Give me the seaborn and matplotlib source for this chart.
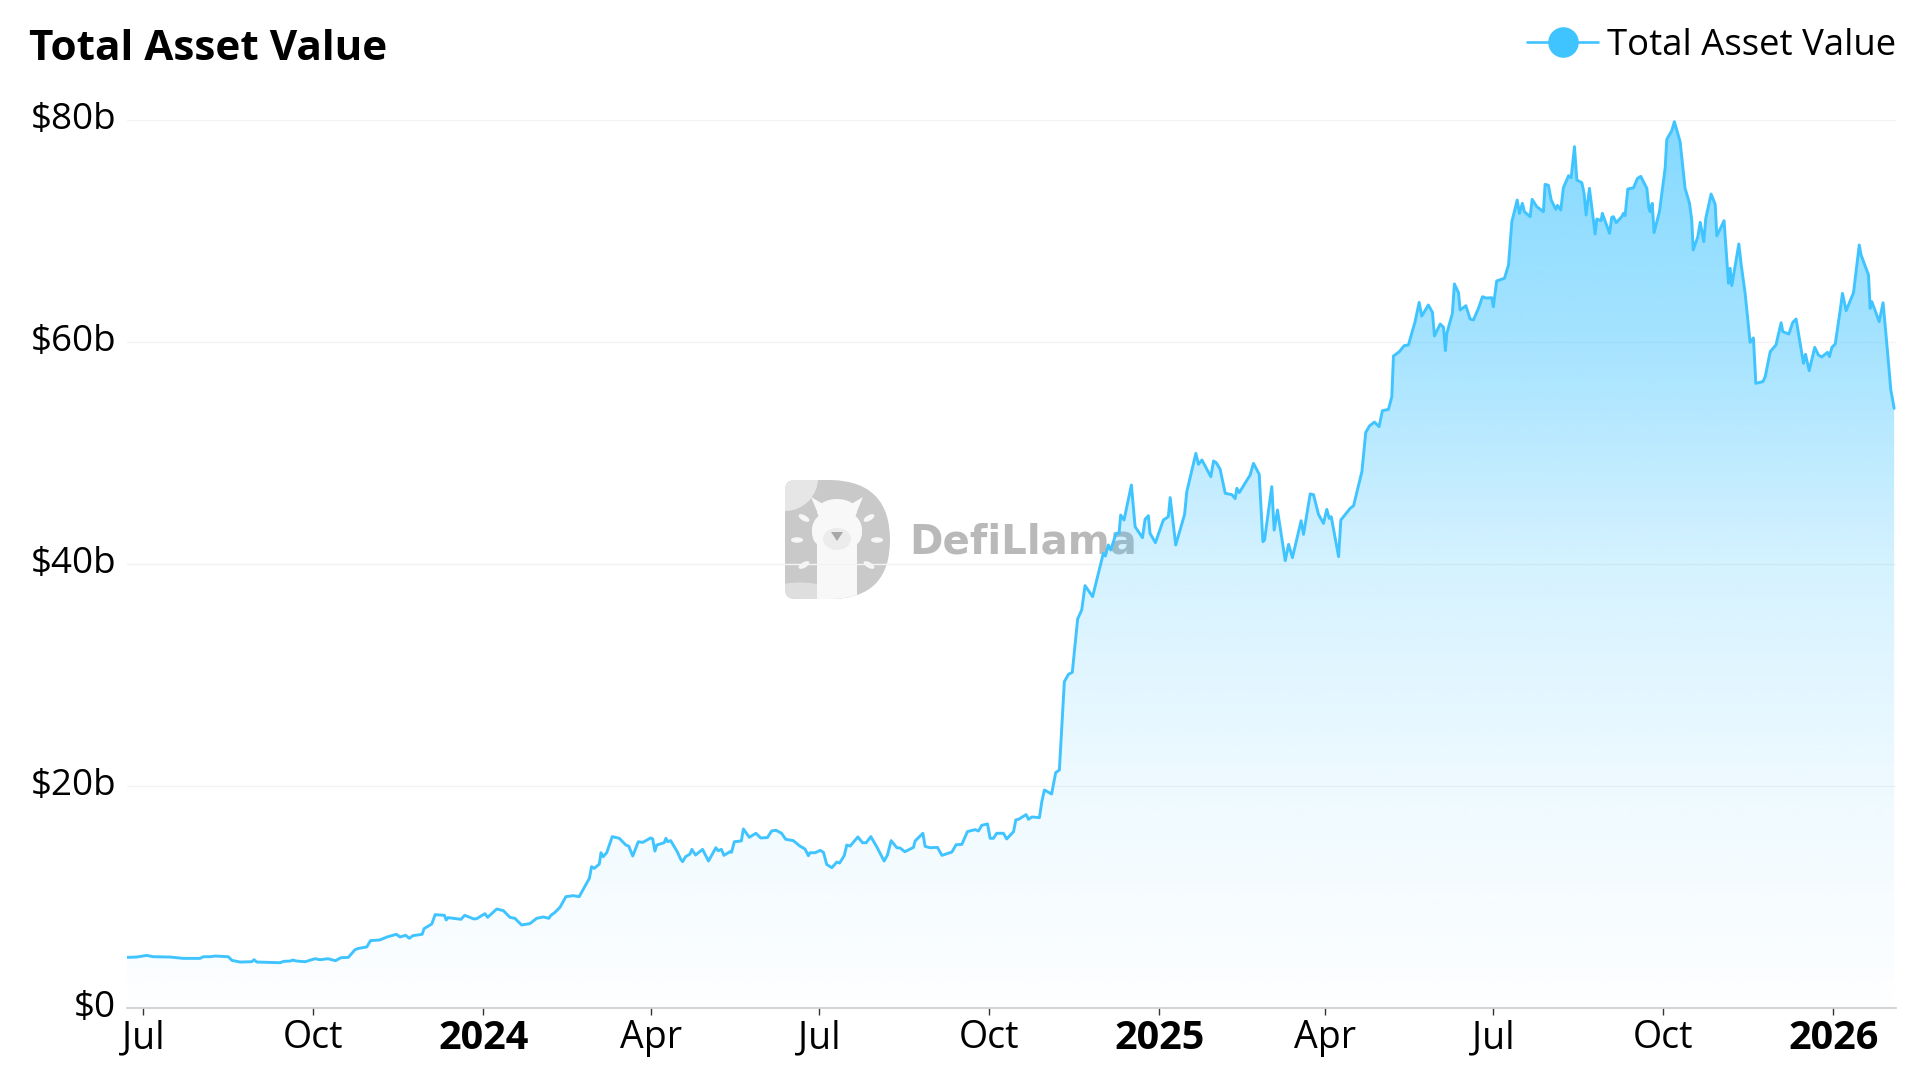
import numpy as np
import pandas as pd
import matplotlib
matplotlib.use("Agg")
import matplotlib.pyplot as plt
import matplotlib.dates as mdates
from matplotlib.lines import Line2D
from matplotlib.patches import PathPatch, Ellipse, Polygon, Circle
from matplotlib.path import Path
from matplotlib.transforms import ScaledTranslation
import seaborn as sns

START_DATE = "2023-06-22"
END_DAY = 958

days = [
 0,5.4,10.8,14.4,23.5,30.7,39.7,41.5,45,48,55,57,61.4,67.7,69,70.4,83,85,88.5,90,92,96.6,102,104.7,109,113,116,120,
 123.6,125.5,130,132,137,141,146,148,151,153,155,160,161,165.2,167,172,173,174,181,183,188,189.5,194,195.4,200.4,
 204,207.5,210.2,213.8,218.3,222,225.6,228.6,229.5,231.9,234.6,237.8,241.8,245,250.5,251.7,253.2,255.9,256.8,258,259.9,
 262.9,266.7,270.3,271.8,274,277,279.4,283.7,284.8,286,287,291,292,292.9,294.5,298.1,300,301,302.6,305,306,308,311.8,
 315,319,320.3,322,323.4,326.6,327.5,329,332.8,333.9,337.1,340.7,343.3,346.9,349.2,351.6,354.6,356.8,360.9,364.5,
 367.3,369.1,370,372.8,375.5,377.3,379,381.8,384.5,386,388.5,389.9,391.7,395.9,398.4,400.4,402.9,406.1,410.1,411.9,
 413.9,417,418.8,421.3,426,426.9,431.1,432.3,435,439,441.4,446.8,449.1,452.2,455.2,459.4,461.2,463,466.1,467.5,469.3,
 471.1,474.7,476.5,480.2,481.4,482.9,487,488.3,490.1,494.2,495.5,
 496.9,500.8,503,505,507.7,509.9,512,514.9,517.1,518.9,523,528.8,529.9,531.5,532.8,535.7,537.3,538.2,540,544,546,550,
 551.4,553.2,554.1,557,561.3,564,
 565,568,572.8,574,578.9,580.3,582.2,587,588.5,589.9,592,594.8,598.4,600.2,601.1,602.4,608.3,610.1,613.2,615.2,616.1,
 620,621.3,623.1,627.3,629.1,631.2,635.9,637.2,640.8,642.6,645.3,648,649.8,651.1,652.2,656.2,657.4,662.5,664.3,668.8,
 670.9,672.9,675.6,678.1,679.9,683.2,685,685.9,689.1,
 691.7,694,697.6,699.8,701.2,704.8,707,708.1,711.2,713,714,714.8,717.8,718.9,721.1,722,725.1,727.4,729.2,731.9,734.1,
 736.1,739.1,740,741.8,746,748.2,750,752.9,754.1,755.7,756.8,759.9,761,763.5,767.1,768,769.8,771.3,773.8,774.7,776.5,
 777.9,780.7,782.1,783.9,785.2,787.9,789.1,790.2,792,795.1,796,798.3,799,802.9,804.1,805,806.5,809.5,810.4,811.3,
 812.8,815.9,818,819.8,823.1,824.2,824.9,826,827,829.9,833,833.9,836.6,838,841.1,843.8,846.2,847.4,848.2,850.7,852,
 853.9,855,857.9,860.1,861,864.9,867.3,868.2,869.1,872.9,874.2,876.3,879,880.8,882.1,885.9,887.2,889.9,893,895.8,
 896.7,900,902.1,903.9,907.9,909,911,914,916,917.8,920.9,922,923.3,925.1,927.8,929,931,935,938.1,939.1,943.1,944,
 944.9,948.9,951,953,955.2,957,
]
tav_billions = [
 4.56,4.59,4.74,4.62,4.59,4.47,4.47,4.62,4.62,4.68,4.62,4.29,4.14,4.17,4.35,4.14,4.08,4.20,4.23,4.32,4.23,4.17,4.44,4.35,4.44,4.26,4.53,4.56,
 5.25,5.37,5.5,6.07,6.13,6.4,6.64,6.4,6.55,6.28,6.52,6.64,7.15,7.57,8.41,8.35,7.93,8.14,7.99,8.35,8.02,8.05,8.5,8.17,8.92,
 8.77,8.17,8.08,7.48,7.6,8.08,8.2,8.08,8.32,8.62,9.07,10.03,10.12,10.03,11.68,12.73,12.58,12.97,13.99,13.63,13.99,
 15.44,15.29,14.68,14.59,13.69,14.98,14.92,15.32,15.23,14.14,14.68,14.89,15.29,14.98,15.08,14.08,13.39,13.18,13.63,13.87,14.29,13.78,14.29,
 13.24,14.44,14.17,14.29,13.75,14.08,14.02,14.98,15.05,16.13,15.38,15.74,15.32,15.35,15.95,16.01,15.74,15.2,15.08,14.59,
 14.32,13.72,13.99,13.99,14.2,14.02,12.94,12.64,13.15,13.06,13.72,14.68,14.59,15.41,14.89,14.89,15.44,14.53,13.24,13.78,
 15.08,14.44,14.41,14.08,14.47,15.05,15.74,14.56,14.44,14.47,13.75,14.05,14.71,14.74,15.89,16.07,15.95,16.46,16.58,15.29,15.29,
 15.74,15.74,15.23,15.89,16.94,17.0,17.42,17.0,17.21,17.15,18.59,
 19.64,19.28,21.2,21.44,29.4,30.06,30.24,35.05,35.86,38.05,37.06,40.96,40.72,41.71,41.26,42.76,42.76,44.41,43.96,47.12,43.36,42.37,
 44.02,44.35,42.76,41.92,43.96,44.26,
 45.98,41.71,44.47,46.52,49.97,48.98,49.37,47.87,49.28,49.13,48.56,46.37,46.25,45.89,46.82,46.43,48.02,49.07,48.08,42.01,42.16,
 46.97,43.06,44.86,40.3,41.77,40.57,43.9,42.67,46.31,46.25,44.47,43.66,44.92,44.11,44.26,40.66,43.96,45.02,45.25,48.32,
 51.86,52.43,52.79,52.37,53.81,53.93,55.08,58.74,59.13,
 59.67,59.73,61.83,63.57,62.34,63.33,62.67,60.54,61.62,61.32,59.22,60.78,62.58,65.23,64.45,62.88,63.27,62.07,61.98,63.03,64.08,
 63.96,63.99,63.18,65.5,65.74,66.94,70.84,72.79,71.59,72.49,71.74,71.29,72.85,72.19,71.74,74.2,74.11,72.79,71.95,72.31,71.89,
 73.9,74.98,74.8,77.6,74.59,74.35,73.39,71.44,73.84,69.73,71.08,70.93,71.59,69.79,71.23,71.29,70.75,71.29,71.59,71.38,
 73.78,73.9,74.74,74.92,73.84,72.04,71.74,72.49,69.85,71.74,75.65,78.26,79.04,79.85,78.05,73.84,72.49,70.99,68.29,69.49,70.78,
 69.04,71.14,73.33,72.4,69.55,70.93,65.29,66.64,65.08,68.83,66.94,64.39,59.97,60.36,56.28,56.43,56.88,59.13,59.73,61.74,
 60.93,60.72,61.77,62.07,58.08,58.89,57.42,59.52,58.83,58.65,59.07,58.68,59.52,59.82,62.88,64.38,62.82,64.44,68.74,67.84,66.04,63.03,
 63.63,61.83,63.54,59.88,55.68,54.02,
]
tick_dates = ["2023-07-01","2023-10-01","2024-01-01","2024-04-01","2024-07-01","2024-10-01",
              "2025-01-01","2025-04-01","2025-07-01","2025-10-01","2026-01-01"]
tick_labels = ["Jul","Oct","2024","Apr","Jul","Oct","2025","Apr","Jul","Oct","2026"]
y_ticks = [0,20,40,60,80]
y_labels = ["$0","$20b","$40b","$60b","$80b"]
title = "Total Asset Value"
series_name = "Total Asset Value"

LINE = "#40C4FF"
FW, FH = 1920, 1080
AX_L, AX_R, AX_T, AX_B = 126.7, 1896, 120, 1008

sns.set_theme(style="white")
plt.rcParams["font.family"] = ["Open Sans", "DejaVu Sans"]

fig = plt.figure(figsize=(19.2, 10.8), dpi=100, facecolor="white")

# watermark layer in pixel units, beneath the chart
bg = fig.add_axes([0, 0, 1, 1], zorder=0)
bg.set_xlim(0, FW); bg.set_ylim(FH, 0); bg.axis("off")
D = Path([(795,480),(832,480),(890,482),(890,540),(890,598),(832,599),(795,599),(785,599),(785,589),(785,490),(785,480),(795,480)],
         [Path.MOVETO,Path.LINETO,Path.CURVE3,Path.CURVE3,Path.CURVE3,Path.CURVE3,Path.LINETO,Path.CURVE3,Path.CURVE3,Path.LINETO,Path.CURVE3,Path.CURVE3])
dp = PathPatch(D, fc="#c9c9c9", ec="none"); bg.add_patch(dp)
c1 = Circle((785,478), 33, fc="#e6e6e6", ec="none"); bg.add_patch(c1); c1.set_clip_path(dp)
c2 = Ellipse((800,640), 150, 115, fc="#dedede", ec="none"); bg.add_patch(c2); c2.set_clip_path(dp)
neck = Polygon([(817,525),(857,525),(857,599),(817,599)], fc="#f8f8f8", ec="none"); bg.add_patch(neck); neck.set_clip_path(dp)
for pts in ([(811,497),(828,507),(821,521)], [(863,497),(846,507),(853,521)]):
    bg.add_patch(Polygon(pts, fc="#f8f8f8", ec="none"))
for (cx, cy, w, h) in [(837,511,40,24),(837,530,50,42),(820,532,16,26),(854,532,16,26)]:
    bg.add_patch(Ellipse((cx,cy), w, h, fc="#f8f8f8", ec="none"))
bg.add_patch(Ellipse((837,539), 28, 22, fc="#ececec", ec="none"))
bg.add_patch(Polygon([(831,532),(843,532),(837,541)], fc="#a8a8a8", ec="none"))
for (cx, cy, ang) in [(804,518,30),(797,540,0),(804,565,-30),(869,518,-30),(877,540,0),(869,565,30)]:
    bg.add_patch(Ellipse((cx,cy), 12, 5.5, angle=ang, fc="#f6f6f6", ec="none"))
bg.text(909, 543, "DefiLlama", family="DejaVu Sans", weight="bold", fontsize=29, color="#b9b9b9", va="center", ha="left")

ax = fig.add_axes([AX_L/FW, (FH-AX_B)/FH, (AX_R-AX_L)/FW, (AX_B-AX_T)/FH], zorder=1)
ax.patch.set_alpha(0)

df = pd.DataFrame({"date": pd.Timestamp(START_DATE) + pd.to_timedelta(days, unit="D"), "value": tav_billions})
sns.lineplot(data=df, x="date", y="value", color=LINE, lw=2.1, ax=ax, zorder=4, legend=False, errorbar=None, estimator=None)

x0 = pd.Timestamp(START_DATE)
x1 = x0 + pd.Timedelta(days=END_DAY)
ax.set_xlim(x0, x1); ax.set_ylim(0, 80)

# vertical gradient under the line
poly = ax.fill_between(df["date"], df["value"], 0, facecolor="none", edgecolor="none")
levels = np.linspace(0, 80, 256)
alpha = np.interp(levels, [0, 20, 40, 60, 80], [0.01, 0.09, 0.22, 0.47, 0.64])
rgba = np.ones((256, 1, 4))
rgba[..., :3] = matplotlib.colors.to_rgb(LINE)
rgba[:, 0, 3] = alpha
im = ax.imshow(rgba, origin="lower", aspect="auto", zorder=3, interpolation="bilinear",
               extent=[mdates.date2num(x0), mdates.date2num(x1), 0, 80])
im.set_clip_path(poly.get_paths()[0], transform=ax.transData)
ax.set_xlim(x0, x1); ax.set_ylim(0, 80)

for s in ["top", "right", "left"]:
    ax.spines[s].set_visible(False)
ax.spines["bottom"].set_color("#cccccc"); ax.spines["bottom"].set_linewidth(1.2)
ax.set_xlabel(""); ax.set_ylabel("")
ax.set_yticks(y_ticks); ax.set_yticklabels(y_labels)
ax.yaxis.grid(True, color="#f3f3f3", lw=1); ax.set_axisbelow(True)
ax.tick_params(axis="y", length=0, pad=7.7, labelsize=26.5, labelcolor="black")
shift_up = ScaledTranslation(0, 4/100, fig.dpi_scale_trans)
for lab in ax.get_yticklabels():
    lab.set_transform(lab.get_transform() + shift_up)
ax.set_xticks(pd.to_datetime(tick_dates)); ax.set_xticklabels(tick_labels)
ax.tick_params(axis="x", length=5, width=1, color="#333333", pad=3, labelsize=27, labelcolor="black", bottom=True)
for lab, txt in zip(ax.get_xticklabels(), tick_labels):
    if txt.isdigit():
        lab.set_fontweight("bold")
        lab.set_fontsize(28.5)

fig.text(29/FW, 1-50/FH, title, fontsize=30.4, fontweight="bold", color="black", va="center", ha="left")

handle = Line2D([], [], color=LINE, lw=1.9, marker="o", ms=21, mec=LINE, mfc=LINE, label=series_name)
leg = ax.legend(handles=[handle], loc="upper right", frameon=False, fontsize=26.3, handlelength=1.95, handletextpad=0.23,
                borderaxespad=0, borderpad=0, bbox_to_anchor=(1.0, 1.104), labelcolor="black")

fig.savefig("out.png", dpi=100, facecolor="white")
